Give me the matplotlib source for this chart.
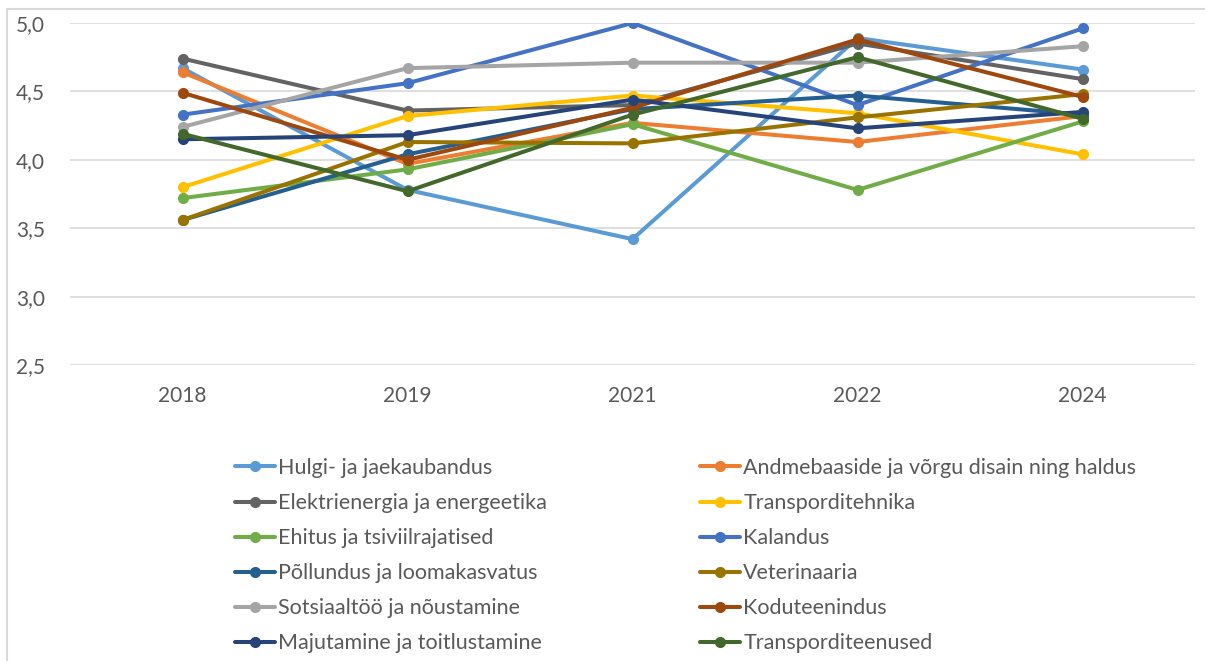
import matplotlib
matplotlib.use("Agg")
import matplotlib.pyplot as plt
from matplotlib.patches import Rectangle
import numpy as np

# Data
years = ["2018", "2019", "2021", "2022", "2024"]

names = [
    "Hulgi- ja jaekaubandus",
    "Andmebaaside ja võrgu disain ning haldus",
    "Elektrienergia ja energeetika",
    "Transporditehnika",
    "Ehitus ja tsiviilrajatised",
    "Kalandus",
    "Põllundus ja loomakasvatus",
    "Veterinaaria",
    "Sotsiaaltöö ja nõustamine",
    "Koduteenindus",
    "Majutamine ja toitlustamine",
    "Transporditeenused",
]

hulgi = [4.67, 3.78, 3.42, 4.89, 4.66]
andmebaas = [4.64, 3.97, 4.27, 4.13, 4.32]
elekter = [4.74, 4.36, 4.40, 4.85, 4.59]
transptehnika = [3.80, 4.32, 4.47, 4.34, 4.04]
ehitus = [3.72, 3.93, 4.26, 3.78, 4.28]
kalandus = [4.33, 4.56, 5.00, 4.40, 4.96]
pollundus = [3.56, 4.04, 4.37, 4.47, 4.33]
veterinaaria = [3.56, 4.13, 4.12, 4.31, 4.48]
sotsiaal = [4.24, 4.67, 4.71, 4.71, 4.83]
kodu = [4.49, 4.00, 4.38, 4.88, 4.46]
majutus = [4.15, 4.18, 4.44, 4.23, 4.35]
transpteenus = [4.19, 3.77, 4.33, 4.75, 4.30]

series = [hulgi, andmebaas, elekter, transptehnika, ehitus, kalandus,
          pollundus, veterinaaria, sotsiaal, kodu, majutus, transpteenus]

colors = ["#5B9BD5", "#ED7D31", "#636363", "#FFC000", "#70AD47", "#4472C4",
          "#255E91", "#997300", "#A5A5A5", "#9E480E", "#264478", "#43682B"]

plt.rcParams['font.family'] = ['Lato', 'DejaVu Sans']

W, H = 1205, 661
fig = plt.figure(figsize=(W / 100, H / 100), dpi=100)
ax = fig.add_axes([70 / W, 1 - 365 / H, 1125 / W, 342 / H])

# light chart-area border (top and left visible)
fig.patches.append(Rectangle((7.5 / W, -0.1), 1.2, 1 - 8.5 / H + 0.1,
                             transform=fig.transFigure, fill=False,
                             edgecolor="#D9D9D9", lw=1.5))

x = np.arange(len(years))
handles = []
for vals, name, c in zip(series, names, colors):
    h, = ax.plot(x, vals, color=c, lw=2.9, marker='o', markersize=7,
                 solid_capstyle='round', label=name)
    handles.append(h)

ax.set_xlim(-0.5, len(years) - 0.5)
ax.set_ylim(2.5, 5.0)
ax.set_yticks([2.5, 3.0, 3.5, 4.0, 4.5, 5.0])
ax.set_yticklabels(["2,5", "3,0", "3,5", "4,0", "4,5", "5,0"])
ax.set_xticks(x)
ax.set_xticklabels(years)
ax.grid(axis='y', color='#D9D9D9', lw=1.2)
ax.set_axisbelow(True)
for s in ax.spines.values():
    s.set_visible(False)
ax.tick_params(length=0, labelsize=15, labelcolor='#595959')
ax.tick_params(axis='x', pad=15)
ax.tick_params(axis='y', pad=18)

# legend: two columns, row-major order like the original
leg_kw = dict(loc='upper left', frameon=False, fontsize=15.5, labelcolor='#595959',
              handlelength=1.86, handletextpad=0.15, labelspacing=0.70,
              borderpad=0, borderaxespad=0)
leg1 = fig.legend(handles[0::2], names[0::2],
                  bbox_to_anchor=(235 / W, 1 - 458 / H), **leg_kw)
leg2 = fig.legend(handles[1::2], names[1::2],
                  bbox_to_anchor=(700 / W, 1 - 458 / H), **leg_kw)

fig.savefig("out.png", dpi=100)
